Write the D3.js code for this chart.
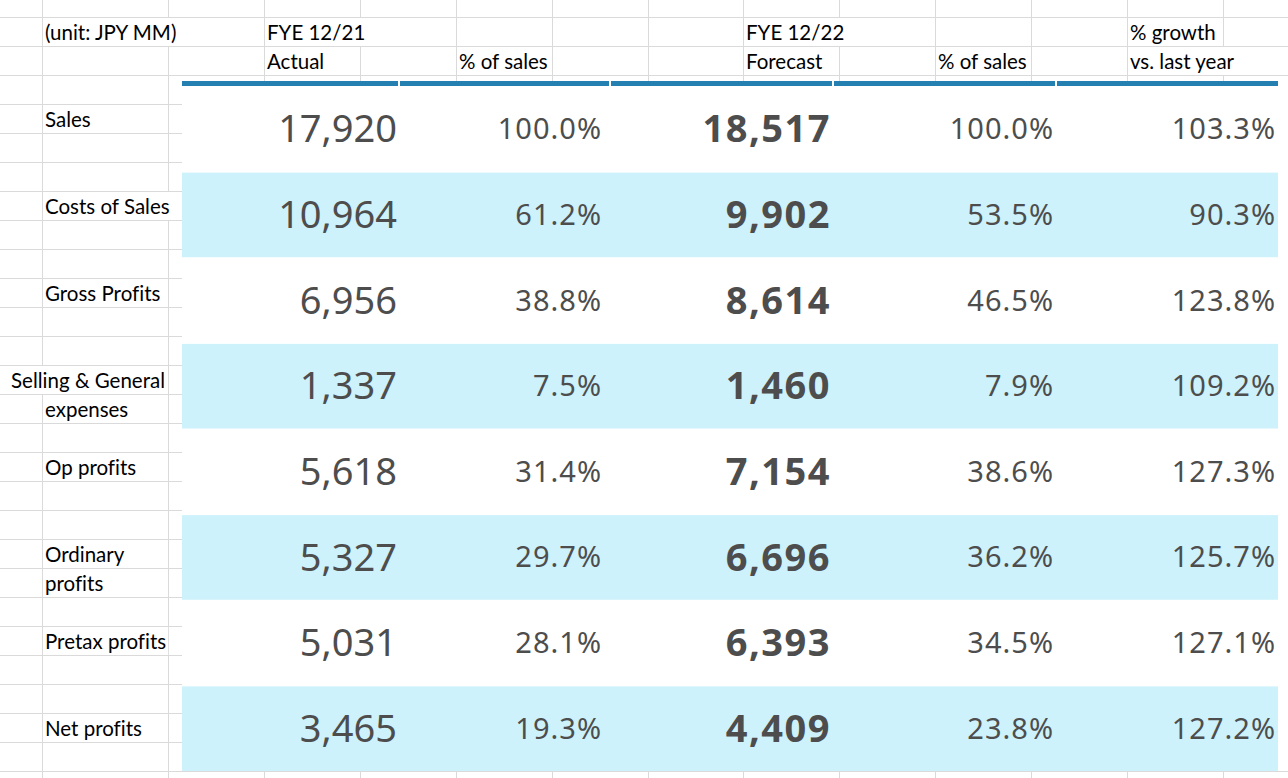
<!DOCTYPE html>
<html>
<head>
<meta charset="utf-8">
<script src="https://cdn.jsdelivr.net/npm/d3@7"></script>
<style>
  html, body { margin: 0; padding: 0; background: #fff; }
  svg { display: block; }
  .lbl { font-family: Lato, "Noto Sans", sans-serif; font-size: 20.5px; fill: #000; font-variant-ligatures: none; }
  .num { font-family: "Noto Sans", "Open Sans", sans-serif; fill: #4d4d4d; }
</style>
</head>
<body>
<svg id="chart" width="1288" height="778"></svg>
<script>
// table values
const categories = ["Sales", "Costs of Sales", "Gross Profits", "Selling & General expenses",
  "Op profits", "Ordinary profits", "Pretax profits", "Net profits"]
const labelLines = [["Sales"], ["Costs of Sales"], ["Gross Profits"], ["Selling & General", "expenses"],
  ["Op profits"], ["Ordinary", "profits"], ["Pretax profits"], ["Net profits"]]
const actual = [17920, 10964, 6956, 1337, 5618, 5327, 5031, 3465]
const actualPct = [100.0, 61.2, 38.8, 7.5, 31.4, 29.7, 28.1, 19.3]
const forecast = [18517, 9902, 8614, 1460, 7154, 6696, 6393, 4409]
const forecastPct = [100.0, 53.5, 46.5, 7.9, 38.6, 36.2, 34.5, 23.8]
const growth = [103.3, 90.3, 123.8, 109.2, 127.3, 125.7, 127.1, 127.2]
const headerTop = ["FYE 12/21", "", "FYE 12/22", "", "% growth"]
const headerBottom = ["Actual", "% of sales", "Forecast", "% of sales", "vs. last year"]
const unitLabel = "(unit: JPY MM)"

const W = 1288, H = 778
const svg = d3.select("#chart")

// spreadsheet grid behind the table
const rowH = 29, gridTop = 17
const gridRows = d3.range(0, 27).map(k => gridTop + k * rowH)
const colEdges = [42].concat(d3.range(0, 13).map(k => Math.round(168 + k * 95.9)))

const grid = svg.append("g").attr("stroke", "#dadada").attr("stroke-width", 1)
grid.selectAll("line.h").data(gridRows).join("line").attr("class", "h")
  .attr("x1", 0).attr("x2", W).attr("y1", d => d + 0.5).attr("y2", d => d + 0.5)
grid.selectAll("line.v").data(colEdges).join("line").attr("class", "v")
  .attr("x1", d => d + 0.5).attr("x2", d => d + 0.5).attr("y1", 0).attr("y2", H)

// text in a grid cell, hiding gridlines it overflows (like the spreadsheet does)
function cellText(str, col, row, spillLeft) {
  const g = svg.append("g")
  const left = colEdges[col], right = colEdges[col + 1]
  const t = g.append("text").attr("class", "lbl")
    .attr("y", gridRows[row + 1] - 6)
    .text(str)
  const w = t.node().getComputedTextLength()
  // row labels too wide for the cell spill to the left, as in the sheet
  const x0 = spillLeft && w > right - left ? right - 3 - w : left + 3
  t.attr("x", x0)
  if (x0 < left + 1 || x0 + w > right - 2) {
    const rx0 = Math.min(x0 - 1, left + 1), rx1 = Math.max(x0 + w + 2, right)
    g.insert("rect", "text")
      .attr("x", rx0).attr("y", gridRows[row] + 1)
      .attr("width", rx1 - rx0).attr("height", rowH - 1)
      .attr("fill", "#fff")
  }
}

cellText(unitLabel, 0, 0)
const headerCols = [2, 4, 7, 9, 11]
headerTop.forEach((s, i) => { if (s) cellText(s, headerCols[i], 0) })
headerBottom.forEach((s, i) => cellText(s, headerCols[i], 1))

labelLines.forEach((lines, i) => {
  lines.forEach((s, j) => cellText(s, 0, 3 + 3 * i + j, true))
})

// table panel
const panelX0 = 182, panelX1 = 1288
const y = d3.scaleBand().domain(categories).range([86, 771])
svg.append("rect").attr("x", panelX0).attr("y", 81)
  .attr("width", panelX1 - panelX0).attr("height", 771 - 81).attr("fill", "#fff")

svg.selectAll("rect.band").data(categories.filter((d, i) => i % 2 === 1)).join("rect")
  .attr("class", "band")
  .attr("x", panelX0).attr("width", 1278 - panelX0)
  .attr("y", d => y(d) + 1).attr("height", y.bandwidth() - 1)
  .attr("fill", "#cdf2fc")

// header rule, split per column
const colKeys = ["actual", "actualPct", "forecast", "forecastPct", "growth"]
const ruleSeg = d3.scaleOrdinal().domain(colKeys)
  .range([[182, 398], [400, 609], [611, 832], [834, 1055], [1057, 1278]])
svg.selectAll("rect.rule").data(colKeys).join("rect").attr("class", "rule")
  .attr("x", d => ruleSeg(d)[0]).attr("width", d => ruleSeg(d)[1] - ruleSeg(d)[0])
  .attr("y", 81).attr("height", 5)
  .attr("fill", "#2580b2")

// values
const xRight = d3.scaleOrdinal().domain(colKeys).range([397, 602, 831, 1054, 1276])
const fmtInt = d3.format(",")
const fmtPct = d => d3.format(".1f")(d) + "%"
const columns = [
  { key: "actual", values: actual, fmt: fmtInt, size: 38, weight: 400, ls: 0 },
  { key: "actualPct", values: actualPct, fmt: fmtPct, size: 29, weight: 400, ls: 1 },
  { key: "forecast", values: forecast, fmt: fmtInt, size: 38, weight: 700, ls: 1.5 },
  { key: "forecastPct", values: forecastPct, fmt: fmtPct, size: 29, weight: 400, ls: 1 },
  { key: "growth", values: growth, fmt: fmtPct, size: 29, weight: 400, ls: 1 }
]

columns.forEach(c => {
  svg.append("g").selectAll("text").data(c.values).join("text")
    .attr("class", "num")
    .attr("text-anchor", "end")
    .attr("x", xRight(c.key))
    .attr("y", (d, i) => y(categories[i]) + y.bandwidth() / 2)
    .attr("dy", "0.36em")
    .style("font-size", c.size + "px")
    .style("font-weight", c.weight)
    .style("letter-spacing", c.ls + "px")
    .text(d => c.fmt(d))
})
</script>
</body>
</html>
